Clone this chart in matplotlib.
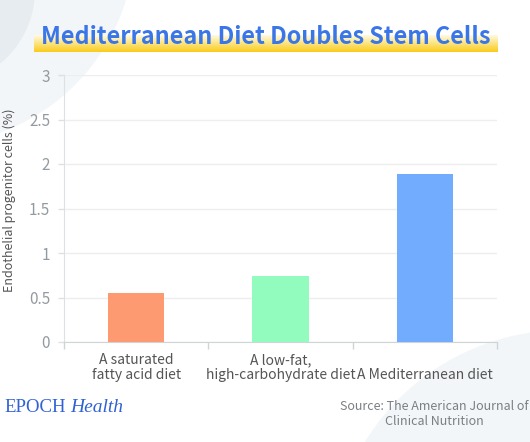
import numpy as np
import matplotlib
matplotlib.use("Agg")
import matplotlib.pyplot as plt
from matplotlib.patches import Circle
from matplotlib.transforms import blended_transform_factory

# data
diets = ["A saturated\nfatty acid diet", "A low-fat,\nhigh-carbohydrate diet", "A Mediterranean diet"]
epc_pct = [0.55, 0.74, 1.89]
bar_colors = ["#fd9a72", "#92fbbe", "#72acff"]
yticks = [0, 0.5, 1, 1.5, 2, 2.5, 3]
ytick_labels = ["0", "0.5", "1", "1.5", "2", "2.5", "3"]

plt.rcParams['font.family'] = ['Noto Sans CJK SC', 'DejaVu Sans']

W, H = 530, 442
fig = plt.figure(figsize=(W / 100, H / 100), dpi=100)

# background in pixel coordinates
bg = fig.add_axes([0, 0, 1, 1], zorder=0)
bg.set_xlim(0, W)
bg.set_ylim(H, 0)
bg.axis("off")
bg.add_patch(Circle((-70, -60), 205, color="#f3f6f8", lw=0))
bg.add_patch(Circle((-60, -10), 95, color="#e6ecf0", lw=0))
bg.add_patch(Circle((565, 565), 235, color="#f3f6f8", lw=0))

# title with yellow highlight
grad = np.linspace(0, 1, 50)[:, None]
cols = np.array([1.0, 0.98, 0.88]) * (1 - grad[..., None]) + np.array([0.98, 0.80, 0.10]) * grad[..., None]
cols = np.repeat(cols, 2, axis=1)
bg.imshow(cols, extent=(34, 498, 52, 35), aspect="auto", zorder=1)
bg.text(266, 44, "Mediterranean Diet Doubles Stem Cells", ha="center", va="baseline",
        fontsize=16.8, fontweight="bold", color="#3a76e8", zorder=2)

ax = fig.add_axes([64 / W, 1 - 342 / H, (497 - 64) / W, (342 - 75) / H], zorder=1)
ax.set_facecolor("none")
x = np.arange(len(diets))
ax.bar(x, epc_pct, width=0.39, color=bar_colors, zorder=3)

ax.set_xlim(-0.5, 2.5)
ax.set_ylim(0, 3)
ax.set_yticks(yticks)
ax.set_yticklabels(ytick_labels, fontsize=11, color="#939ba0")
ax.set_xticks([-0.5, 0.5, 1.5, 2.5])
ax.set_xticklabels([])
ax.tick_params(axis="x", length=5, color="#cfd4d7", width=1)
ax.tick_params(axis="y", length=4, color="#dde1e3", width=1, pad=6)
ax.grid(axis="y", color="#eeeeee", lw=1, zorder=0)
for s in ["top", "right"]:
    ax.spines[s].set_visible(False)
ax.spines["left"].set_color("#dde1e3")
ax.spines["bottom"].set_color("#cfd4d7")
ax.set_ylabel("Endothelial progenitor cells (%)", fontsize=9, color="#555555")
ax.yaxis.set_label_coords(-0.11, 0.53)

tr = blended_transform_factory(ax.transData, bg.transData)
for i, lab in enumerate(diets):
    ax.text(i, 379, lab, transform=tr, ha="center", va="baseline", multialignment="center",
            fontsize=10, color="#555555", linespacing=1.1)

bg.text(4, 412, "EPOCH", ha="left", va="baseline", fontsize=13.5, color="#3062d4",
        family="Liberation Serif")
bg.text(70, 412, "Health", ha="left", va="baseline", fontsize=14, color="#3062d4",
        family="Liberation Serif", style="italic")
bg.text(434, 425, "Source: The American Journal of\nClinical Nutrition", ha="center", va="baseline",
        multialignment="center", fontsize=9, color="#7a7f83", linespacing=1.15)

fig.savefig("out.png", dpi=100)
